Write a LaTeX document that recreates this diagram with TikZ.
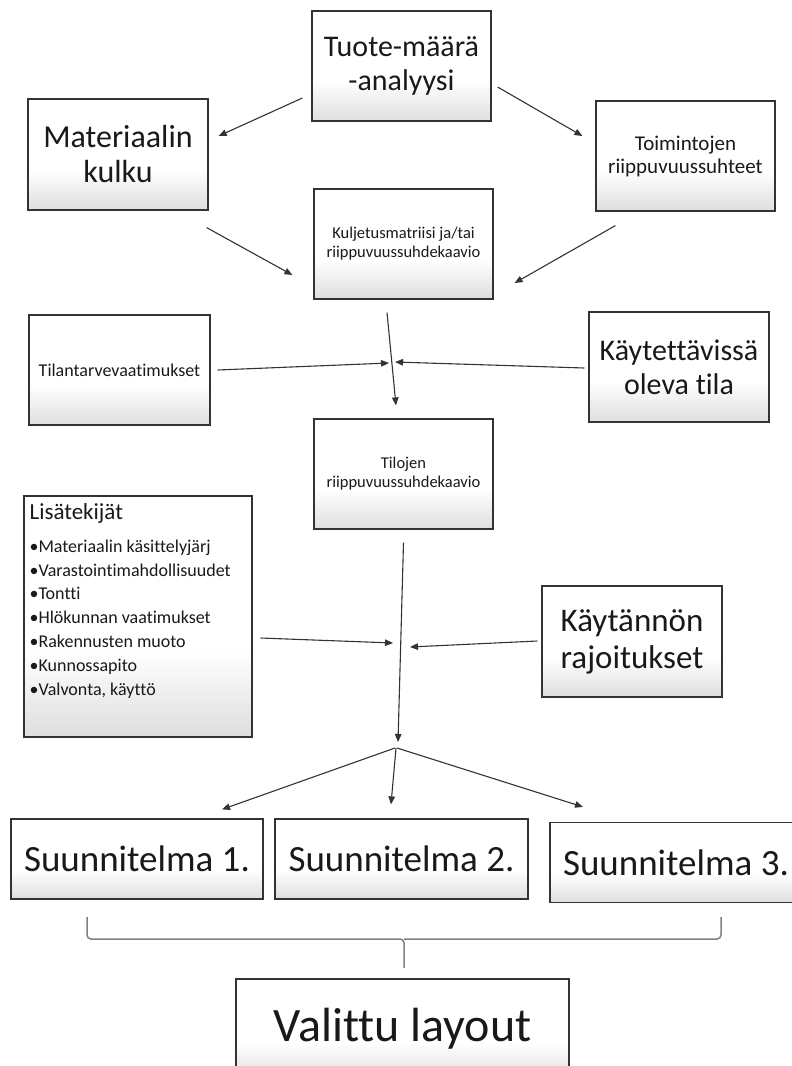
\documentclass[tikz,border=0pt]{standalone}
\usepackage{fontspec}
\setmainfont{Carlito}[Ligatures=NoCommon]
\usepackage{tikz}
\usetikzlibrary{arrows.meta}
\pgfdeclareverticalshading{boxfade}{100bp}{color(0bp)=(black!13); color(25bp)=(black!13); color(43bp)=(white); color(75bp)=(white); color(100bp)=(white)}
\tikzset{
  stepbox/.style ={rectangle, draw=black!80, line width=1.2pt, shading=boxfade, align=center, inner sep=2pt, minimum width=179pt, minimum height=110pt, text=black!90},
  planbox/.style ={stepbox, minimum width=252pt, minimum height=80pt, font=\fontsize{37}{40}\selectfont},
  flow/.style    ={-{Triangle[length=8pt,width=6.5pt]}, draw=black!80, line width=1.1pt},
  brace/.style   ={draw=black!50, line width=1.5pt, rounded corners=4pt},
}

\begin{document}
\begin{tikzpicture}[x=1pt,y=-1pt]
\useasboundingbox[fill=white] (0,0) rectangle (792,1066);
% --- top: analysis and its two results ---
\node[stepbox, font=\fontsize{30}{34}\selectfont] (tuote) at (401.5,66) {Tuote-määrä\\-analyysi};
\node[stepbox, minimum width=180pt, minimum height=111pt, font=\fontsize{32}{35}\selectfont] (mat) at (118,154.5) {Materiaalin\\kulku};
\node[stepbox, font=\fontsize{21}{23}\selectfont] (toim) at (685.5,156) {Toimintojen\\riippuvuussuhteet};
\node[stepbox, font=\fontsize{16.5}{19}\selectfont] (kulj) at (403.5,244) {Kuljetusmatriisi ja/tai\\riippuvuussuhdekaavio};
% --- middle: space requirements ---
\node[stepbox, minimum width=181pt, font=\fontsize{18}{21}\selectfont] (tilan) at (119.5,370) {Tilantarvevaatimukset};
\node[stepbox, minimum width=180pt, font=\fontsize{30}{34}\selectfont] (kayt) at (679,367) {Käytettävissä\\oleva tila};
\node[stepbox, font=\fontsize{16.5}{19}\selectfont] (tilojen) at (403.5,474) {Tilojen\\riippuvuussuhdekaavio};
\coordinate (cross) at (392,363);
% --- lower: extra factors and limits ---
\node[stepbox, minimum width=228pt, minimum height=241pt] (lisa) at (138,616.5) {};
\node[anchor=north west, align=left, inner sep=0pt, text=black!90, font=\fontsize{18}{23.8}\selectfont] (lisatxt) at ([shift={(6,8)}]lisa.north west)
  {{\fontsize{23}{26}\selectfont Lisätekijät}\\[9pt]
   •Materiaalin käsittelyjärj\\
   •Varastointimahdollisuudet\\
   •Tontti\\
   •Hlökunnan vaatimukset\\
   •Rakennusten muoto\\
   •Kunnossapito\\
   •Valvonta, käyttö};
\node[stepbox, minimum width=180pt, minimum height=111pt, font=\fontsize{33}{37}\selectfont] (kayta) at (632,641.5) {Käytännön\\rajoitukset};
\coordinate (join) at (402,645);
\coordinate (split) at (397,746);
% --- bottom: plans and the choice ---
\node[planbox] (s1) at (137,859) {Suunnitelma 1.};
\node[planbox, minimum width=253pt] (s2) at (401.5,859) {Suunnitelma 2.};
\node[planbox] (s3) at (676,862.5) {Suunnitelma 3.};
\node[stepbox, minimum width=333pt, minimum height=100pt, font=\fontsize{48}{52}\selectfont] (valittu) at (402.5,1029) {Valittu layout};
% --- arrows ---
\draw[flow] ([shift={(-9,32)}]tuote.west) -- ([shift={(10,-18.5)}]mat.east);
\draw[flow] ([shift={(6,21)}]tuote.east) -- ([shift={(-13,-20)}]toim.west);
\draw[flow] ([shift={(-2,17)}]mat.south east) -- ([shift={(-21,31)}]kulj.west);
\draw[flow] ([shift={(20,14)}]toim.south west) -- ([shift={(21,39)}]kulj.east);
\draw[flow] ([shift={(-16.5,13)}]kulj.south) -- ([shift={(-7.5,-13)}]tilojen.north);
\draw[flow] ([shift={(7,0)}]tilan.east) -- ([shift={(-3,0)}]cross);
\draw[flow] ([shift={(-4,1)}]kayt.west) -- ([shift={(3,-1)}]cross);
\draw[flow] ([shift={(0,13)}]tilojen.south) -- ([shift={(1,-4)}]split);
\draw[flow] ([shift={(8,21.5)}]lisa.east) -- ([shift={(-9,-2)}]join);
\draw[flow] ([shift={(-4,-0.5)}]kayta.west) -- ([shift={(8,2)}]join);
\draw[flow] ([shift={(-2,2)}]split) -- ([shift={(85,-9)}]s1.north);
\draw[flow] ([shift={(-1,2)}]split) -- ([shift={(-10.5,-14)}]s2.north);
\draw[flow] ([shift={(0,2)}]split) -- ([shift={(-93,-15)}]s3.north);
% --- brace ---
\draw[brace] (87,917) |- (404,939) -- (404,968);
\draw[brace] (721,917) |- (404,939);
\end{tikzpicture}
\end{document}
